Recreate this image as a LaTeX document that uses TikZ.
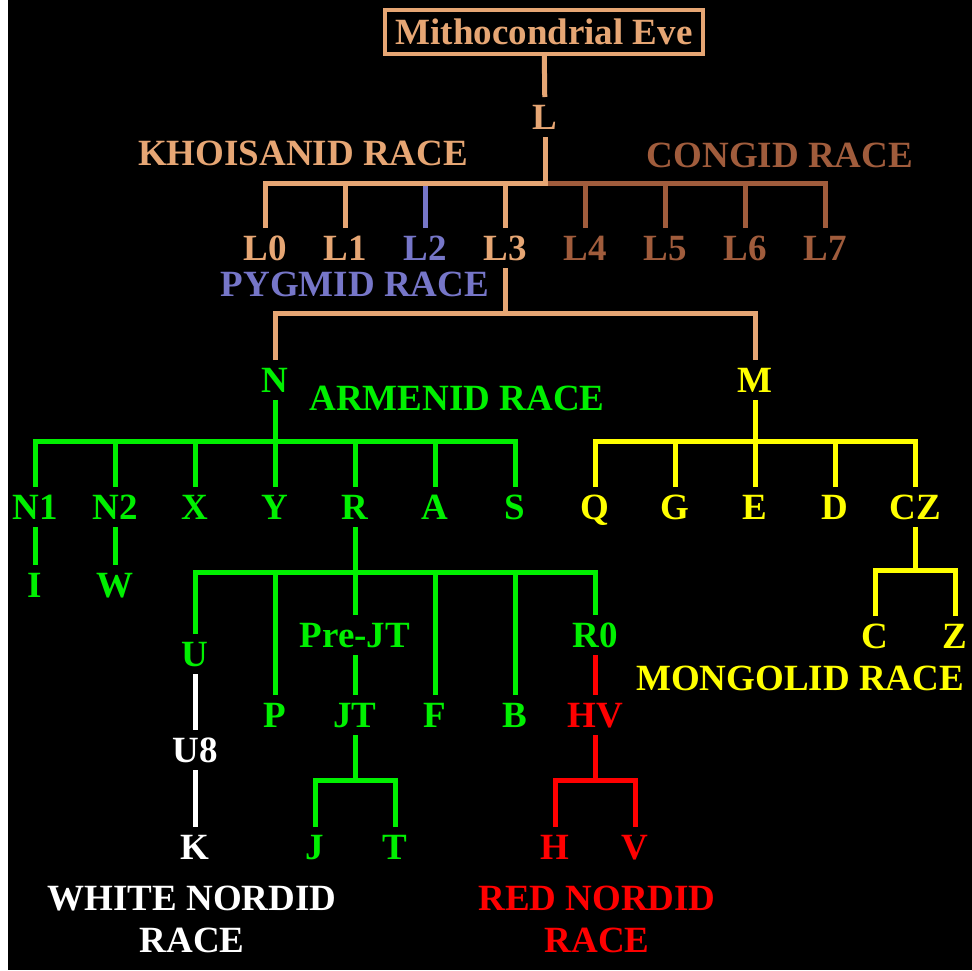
\documentclass[tikz,border=0pt]{standalone}
\usepackage{fontspec}
\setmainfont{Liberation Serif}
\definecolor{evetan}{RGB}{230,166,116}
\definecolor{congo}{RGB}{160,92,60}
\definecolor{pygmy}{RGB}{118,118,200}
\definecolor{armgreen}{RGB}{0,240,0}
\definecolor{mongyellow}{RGB}{255,255,0}
\definecolor{nordred}{RGB}{255,0,0}
\begin{document}
\begin{tikzpicture}[x=0.5pt, y=-0.5pt, node distance=40pt]
  % Define styles
  \tikzstyle{hap} = [font=\bfseries\fontsize{18.5}{21}\selectfont, text height=12.4pt, text depth=0pt, inner xsep=2pt, inner ysep=3.6pt]
  \tikzstyle{race} = [font=\bfseries\fontsize{18.5}{21}\selectfont, align=center, inner sep=0pt]
  \tikzstyle{branch} = [line width=2.5pt]

  % Background
  \fill[black] (0,0) rectangle (972,970);
  \fill[white] (0,0) rectangle (8,970);

  % ROOT
  \node (eve) [hap, draw=evetan, text=evetan, line width=2pt, minimum width=159pt, minimum height=22pt] at (544,32) {Mithocondrial Eve};
  \node (L) [hap, text=evetan] at (545,117) {L};
  \coordinate (Lbar) at (545,183);

  % L haplogroups
  \node (L0) [hap, text=evetan] at (265,248) {L0};
  \node (L1) [hap, text=evetan, right of=L0] {L1};
  \node (L2) [hap, text=pygmy, right of=L1] {L2};
  \node (L3) [hap, text=evetan, right of=L2] {L3};
  \node (L4) [hap, text=congo, right of=L3] {L4};
  \node (L5) [hap, text=congo, right of=L4] {L5};
  \node (L6) [hap, text=congo, right of=L5] {L6};
  \node (L7) [hap, text=congo, right of=L6] {L7};

  \node (khoisanid) [race, text=evetan] at (303,153) {KHOISANID RACE};
  \node (congid) [race, text=congo] at (780,155) {CONGID RACE};
  \node (pygmid) [race, text=pygmy] at (355,284) {PYGMID RACE};

  % N and M
  \coordinate (L3bar) at (505,313);
  \node (N) [hap, text=armgreen] at (275,380) {N};
  \node (M) [hap, text=mongyellow] at (755,380) {M};
  \node (armenid) [race, text=armgreen] at (457,398) {ARMENID RACE};

  % N branch
  \coordinate (Nbar) at (275,441);
  \node (N1) [hap, text=armgreen] at (35,507) {N1};
  \node (N2) [hap, text=armgreen, right of=N1] {N2};
  \node (X) [hap, text=armgreen, right of=N2] {X};
  \node (Y) [hap, text=armgreen, right of=X] {Y};
  \node (R) [hap, text=armgreen, right of=Y] {R};
  \node (A) [hap, text=armgreen, right of=R] {A};
  \node (S) [hap, text=armgreen, right of=A] {S};
  \node (I) [hap, text=armgreen] at (35,585) {I};
  \node (W) [hap, text=armgreen] at (115,585) {W};

  % M branch
  \coordinate (Mbar) at (755,441);
  \node (Q) [hap, text=mongyellow] at (595,507) {Q};
  \node (G) [hap, text=mongyellow, right of=Q] {G};
  \node (E) [hap, text=mongyellow, right of=G] {E};
  \node (D) [hap, text=mongyellow, right of=E] {D};
  \node (CZ) [hap, text=mongyellow, right of=D] {CZ};
  \coordinate (CZbar) at (915,570);
  \node (C) [hap, text=mongyellow] at (875,636) {C};
  \node (Z) [hap, text=mongyellow] at (955,636) {Z};
  \node (mongolid) [race, text=mongyellow] at (800,678) {MONGOLID RACE};

  % R branch
  \coordinate (Rbar) at (355,572);
  \node (U) [hap, text=armgreen] at (195,654) {U};
  \node (P) [hap, text=armgreen] at (275,715) {P};
  \node (PreJT) [hap, text=armgreen] at (355,635) {Pre-JT};
  \node (F) [hap, text=armgreen] at (435,715) {F};
  \node (B) [hap, text=armgreen] at (515,715) {B};
  \node (R0) [hap, text=armgreen] at (595,635) {R0};
  \node (U8) [hap, text=white] at (195,750) {U8};
  \node (K) [hap, text=white] at (195,847) {K};
  \node (JT) [hap, text=armgreen] at (355,715) {JT};
  \coordinate (JTbar) at (355,780);
  \node (J) [hap, text=armgreen] at (315,847) {J};
  \node (T) [hap, text=armgreen] at (395,847) {T};
  \node (HV) [hap, text=nordred] at (595,715) {HV};
  \coordinate (HVbar) at (595,780);
  \node (H) [hap, text=nordred] at (555,847) {H};
  \node (V) [hap, text=nordred] at (635,847) {V};

  \node (whitenordid) [race, text=white] at (192,919) {WHITE NORDID\\RACE};
  \node (rednordid) [race, text=nordred] at (597,919) {RED NORDID\\RACE};

  % Branch lines
  \draw [branch, evetan] (eve) -- (L);
  \draw [branch, pygmy] (L2) -- (L2 |- Lbar);
  \draw [branch, congo] (L7) |- (Lbar);
  \draw [branch, congo] (L4) -- (L4 |- Lbar);
  \draw [branch, congo] (L5) -- (L5 |- Lbar);
  \draw [branch, congo] (L6) -- (L6 |- Lbar);
  \draw [branch, evetan] (L0) |- (Lbar) -- (L);
  \draw [branch, evetan] (L1) -- (L1 |- Lbar);
  \draw [branch, evetan] (L3) -- (L3 |- Lbar);

  \draw [branch, evetan] (L3) -- (L3bar);
  \draw [branch, evetan] (N) |- (L3bar);
  \draw [branch, evetan] (M) |- (L3bar);

  \draw [branch, armgreen] (N) -- (Nbar);
  \draw [branch, armgreen] (N1) |- (Nbar);
  \draw [branch, armgreen] (S) |- (Nbar);
  \foreach \h in {N2, X, Y, R, A}
    \draw [branch, armgreen] (\h) -- (\h |- Nbar);
  \draw [branch, armgreen] (N1) -- (I);
  \draw [branch, armgreen] (N2) -- (W);

  \draw [branch, mongyellow] (M) -- (Mbar);
  \draw [branch, mongyellow] (Q) |- (Mbar);
  \draw [branch, mongyellow] (CZ) |- (Mbar);
  \foreach \h in {G, E, D}
    \draw [branch, mongyellow] (\h) -- (\h |- Mbar);
  \draw [branch, mongyellow] (CZ) -- (CZbar);
  \draw [branch, mongyellow] (C) |- (CZbar);
  \draw [branch, mongyellow] (Z) |- (CZbar);

  \draw [branch, armgreen] (R) -- (Rbar);
  \draw [branch, armgreen] (U) |- (Rbar);
  \draw [branch, armgreen] (R0) |- (Rbar);
  \foreach \h in {P, PreJT, F, B}
    \draw [branch, armgreen] (\h) -- (\h |- Rbar);
  \draw [branch, white] (U) -- (U8);
  \draw [branch, white] (U8) -- (K);
  \draw [branch, armgreen] (PreJT) -- (JT);
  \draw [branch, armgreen] (JT) -- (JTbar);
  \draw [branch, armgreen] (J) |- (JTbar);
  \draw [branch, armgreen] (T) |- (JTbar);
  \draw [branch, nordred] (R0) -- (HV);
  \draw [branch, nordred] (HV) -- (HVbar);
  \draw [branch, nordred] (H) |- (HVbar);
  \draw [branch, nordred] (V) |- (HVbar);
\end{tikzpicture}
\end{document}
